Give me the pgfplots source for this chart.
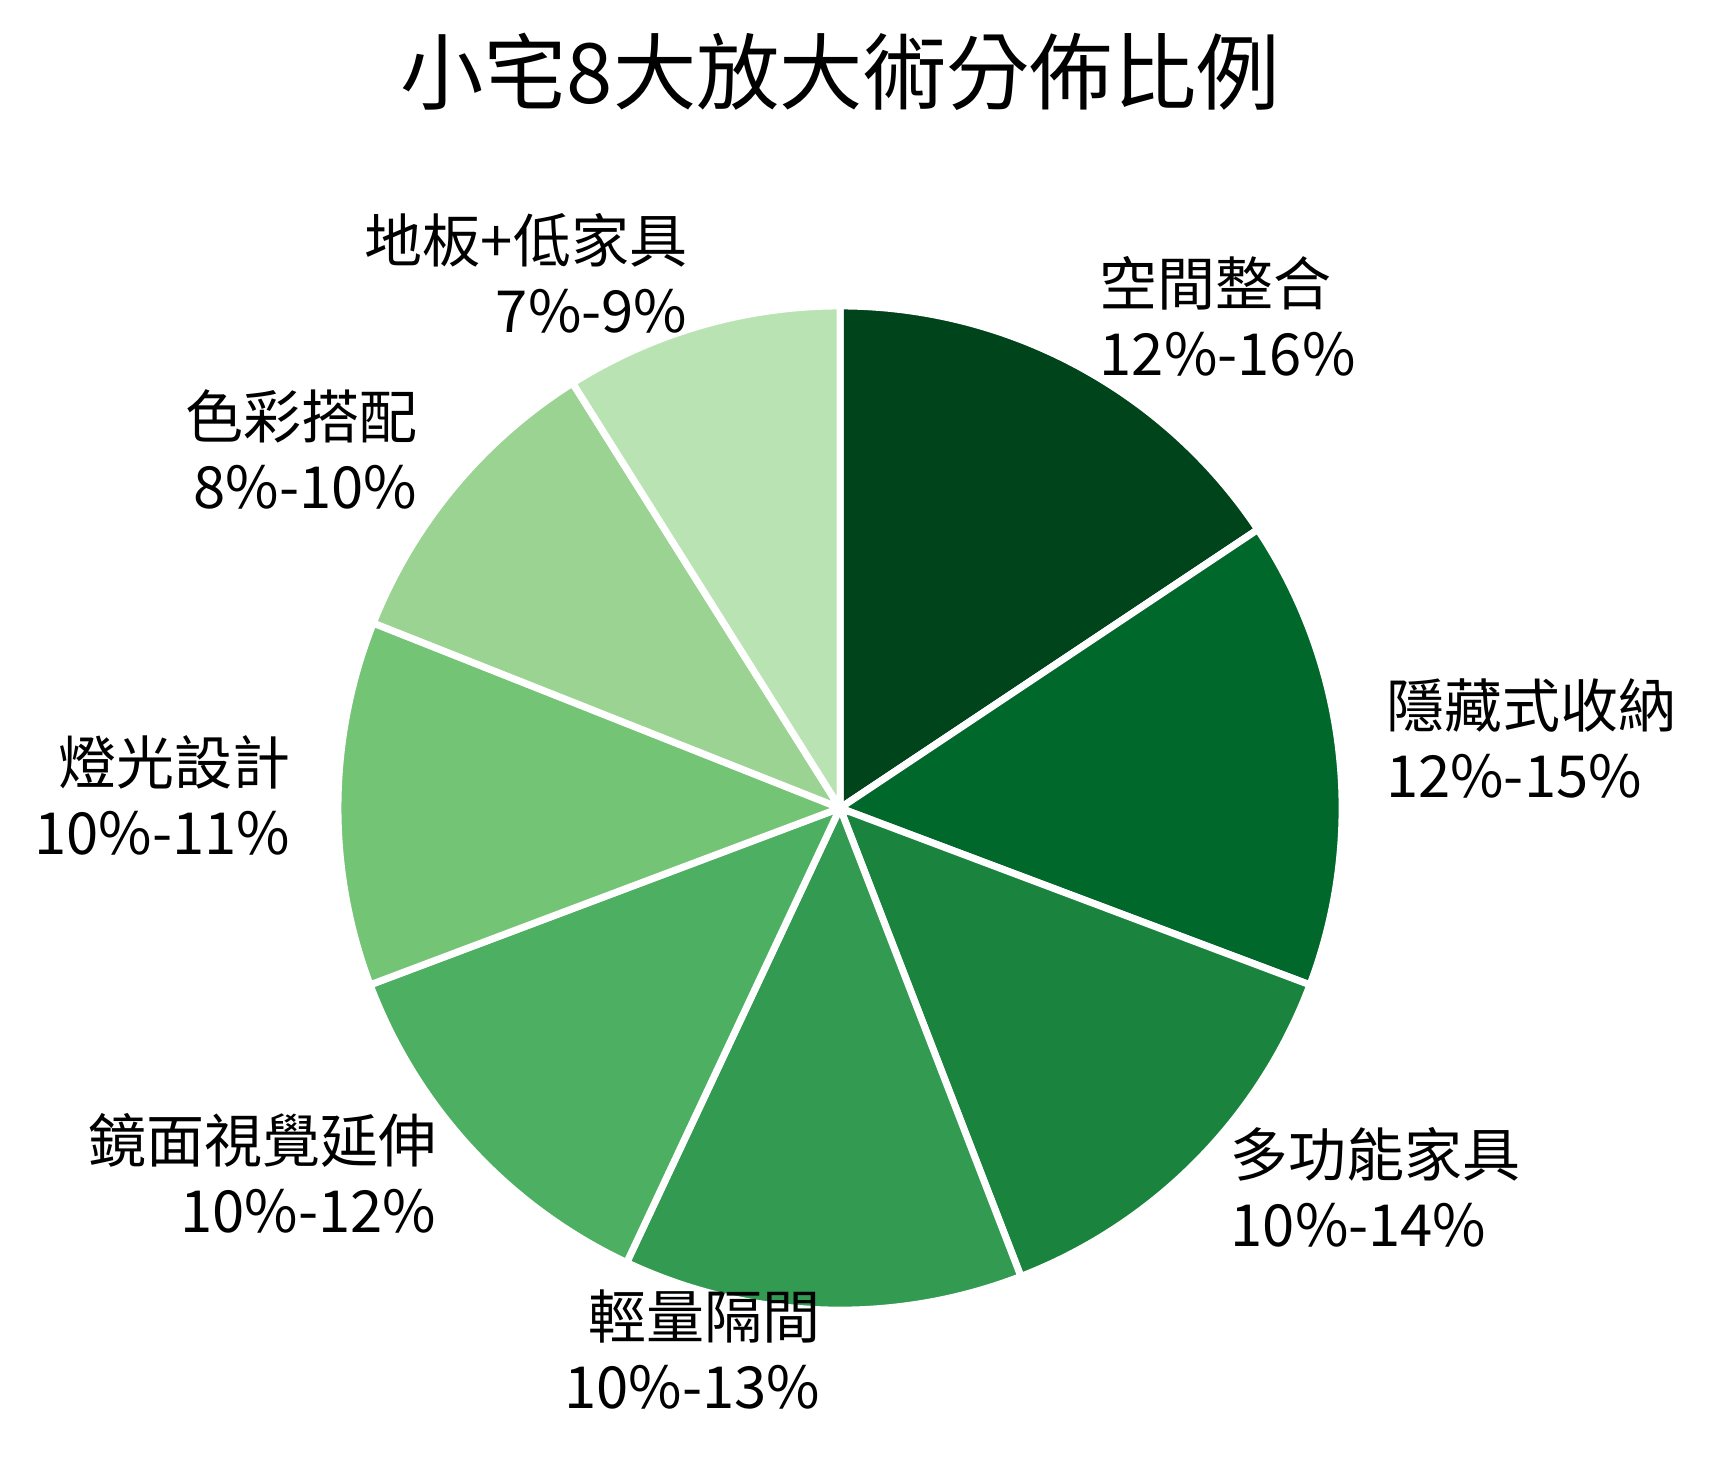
\documentclass[border=0pt]{standalone}
\usepackage{pgfplots}
\pgfplotsset{compat=1.18}
\usepackage{pgfplotstable}
\usepackage{fontspec}
\setmainfont{Noto Sans CJK TC}

\definecolor{c0}{HTML}{00441B}
\definecolor{c1}{HTML}{00682A}
\definecolor{c2}{HTML}{1A843F}
\definecolor{c3}{HTML}{329A51}
\definecolor{c4}{HTML}{4DAF62}
\definecolor{c5}{HTML}{74C476}
\definecolor{c6}{HTML}{9BD393}
\definecolor{c7}{HTML}{B9E3B2}

% slice value = middle of the range
\pgfplotstableread[col sep=comma]{
name,value,lo,hi
空間整合,14,12,16
隱藏式收納,13.5,12,15
多功能家具,12,10,14
輕量隔間,11.5,10,13
鏡面視覺延伸,11,10,12
燈光設計,10.5,10,11
色彩搭配,9,8,10
地板+低家具,8,7,9
}\piedata

\newcommand\setg[2]{\expandafter\xdef\csname #1\endcsname{#2}}
\newcommand\labelfont{\fontsize{16.5}{19.9}\selectfont}
\newcommand\titlefont{\fontsize{23.7}{28}\selectfont}
\def\R{1.006}% radius in axis units

% angles, clockwise from the top
\xdef\total{0}
\foreach \i in {0,...,7}{%
  \pgfplotstablegetelem{\i}{value}\of\piedata
  \pgfmathparse{\total+\pgfplotsretval}\xdef\total{\pgfmathresult}%
}
\xdef\cum{0}
\foreach \i in {0,...,7}{%
  \pgfplotstablegetelem{\i}{value}\of\piedata
  \let\val\pgfplotsretval
  \pgfmathsetmacro\sa{90-\cum/\total*360}%
  \pgfmathsetmacro\ea{90-(\cum+\val)/\total*360}%
  \pgfmathparse{\cum+\val}\xdef\cum{\pgfmathresult}%
  \pgfmathsetmacro\ma{(\sa+\ea)/2}%
  \pgfmathsetmacro\sx{\R*cos(\sa)}%
  \pgfmathsetmacro\sy{\R*sin(\sa)}%
  \pgfmathsetmacro\lx{1.1*cos(\ma)}%
  \pgfmathsetmacro\ly{1.1*sin(\ma)+0.015}%
  \setg{sa\i}{\sa}\setg{ea\i}{\ea}%
  \setg{sx\i}{\sx}\setg{sy\i}{\sy}%
  \setg{lx\i}{\lx}\setg{ly\i}{\ly}%
  \ifdim\lx pt>0pt \setg{an\i}{west}\setg{al\i}{left}%
  \else \setg{an\i}{east}\setg{al\i}{right}\fi
  \pgfplotstablegetelem{\i}{name}\of\piedata
  \setg{nm\i}{\pgfplotsretval}%
  \pgfplotstablegetelem{\i}{lo}\of\piedata
  \setg{lo\i}{\pgfplotsretval}%
  \pgfplotstablegetelem{\i}{hi}\of\piedata
  \setg{hi\i}{\pgfplotsretval}%
}

\begin{document}
\begin{tikzpicture}
\begin{axis}[
  hide axis,
  x=4.99cm, y=4.99cm,
  xmin=-1.683, xmax=1.745,
  ymin=-1.323, ymax=1.619,
  clip=false,
]
\path (axis cs:-1.683,-1.323) rectangle (axis cs:1.745,1.619);
\pgfplotsinvokeforeach{0,...,7}{
  \edef\tmp{\noexpand\fill[c#1, draw=white, line width=0.07cm, line join=miter]
    (axis cs:0,0) -- (axis cs:\csname sx#1\endcsname,\csname sy#1\endcsname)
    arc[start angle=\csname sa#1\endcsname, end angle=\csname ea#1\endcsname, radius=\R]
    -- cycle;}
  \tmp
  \edef\tmp{\noexpand\node[anchor=\csname an#1\endcsname, align=\csname al#1\endcsname,
    font=\noexpand\labelfont, inner sep=0pt]
    at (axis cs:\csname lx#1\endcsname,\csname ly#1\endcsname)
    {\csname nm#1\endcsname\noexpand\\\csname lo#1\endcsname\noexpand\%-\csname hi#1\endcsname\noexpand\%};}
  \tmp
}
\node[font=\titlefont, inner sep=0pt] at (axis cs:0,1.475) {小宅8大放大術分佈比例};
\end{axis}
\end{tikzpicture}
\end{document}
